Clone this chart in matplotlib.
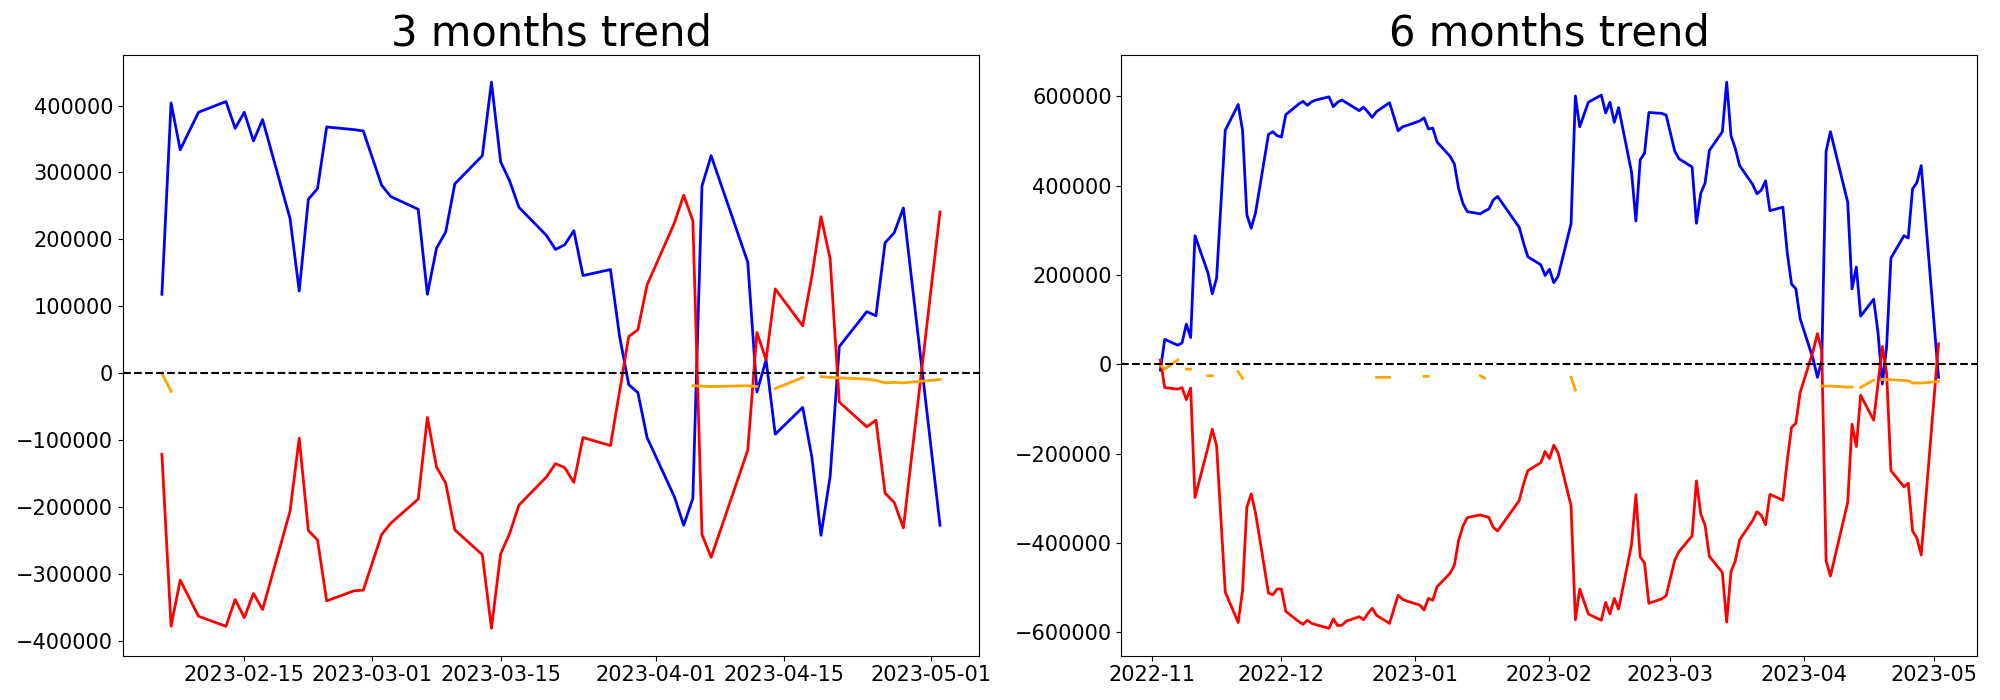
import numpy as np
import pandas as pd
import matplotlib
matplotlib.use('Agg')
import matplotlib.pyplot as plt

# ---- 3 months window ----
dates_3m = ['2023-02-06', '2023-02-07', '2023-02-08', '2023-02-10', '2023-02-13', '2023-02-14',
            '2023-02-15', '2023-02-16', '2023-02-17', '2023-02-20', '2023-02-21', '2023-02-22',
            '2023-02-23', '2023-02-24', '2023-02-27', '2023-02-28', '2023-03-02', '2023-03-03',
            '2023-03-06', '2023-03-07', '2023-03-08', '2023-03-09', '2023-03-10', '2023-03-13',
            '2023-03-14', '2023-03-15', '2023-03-16', '2023-03-17', '2023-03-20', '2023-03-21',
            '2023-03-22', '2023-03-23', '2023-03-24', '2023-03-27', '2023-03-28', '2023-03-29',
            '2023-03-30', '2023-03-31', '2023-04-03', '2023-04-04', '2023-04-05', '2023-04-06',
            '2023-04-07', '2023-04-11', '2023-04-12', '2023-04-13', '2023-04-14', '2023-04-17',
            '2023-04-18', '2023-04-19', '2023-04-20', '2023-04-21', '2023-04-24', '2023-04-25',
            '2023-04-26', '2023-04-27', '2023-04-28', '2023-05-02']

blue_3m = [118000, 404000, 334000, 390000, 406000, 366000,
           390000, 347000, 379000, 231000, 123000, 260000,
           276000, 368000, 364000, 362000, 281000, 264000,
           245000, 118000, 187000, 211000, 283000, 325000,
           435000, 316000, 287000, 248000, 206000, 185000,
           192000, 213000, 146000, 155000, 55000, -17000,
           -29000, -96000, -185000, -227000, -187000, 280000,
           325000, 166000, -28000, 20000, -91000, -51000,
           -125000, -242000, -154000, 40000, 92000, 86000,
           195000, 210000, 247000, -227000]

red_3m = [-121000, -378000, -309000, -363000, -378000, -338000,
          -365000, -329000, -353000, -206000, -97000, -235000,
          -249000, -340000, -325000, -324000, -241000, -224000,
          -188000, -66000, -140000, -164000, -234000, -271000,
          -381000, -270000, -239000, -197000, -155000, -135000,
          -141000, -163000, -96000, -108000, -27000, 55000,
          65000, 132000, 225000, 266000, 228000, -241000,
          -275000, -115000, 61000, 20000, 126000, 71000,
          145000, 234000, 171000, -43000, -80000, -70000,
          -179000, -193000, -231000, 241000]

# orange series only exists on some days
orange_dates_3m = ['2023-02-06', '2023-02-07', '2023-04-05', '2023-04-06', '2023-04-07',
                   '2023-04-11', '2023-04-12', '2023-04-14', '2023-04-17', '2023-04-19',
                   '2023-04-20', '2023-04-21', '2023-04-24', '2023-04-25', '2023-04-26',
                   '2023-04-27', '2023-04-28', '2023-05-02']
orange_3m = [0, -27000, -18600, -19200, -19800,
             -18600, -19800, -22900, -6200, -5000,
             -6200, -6800, -8700, -10500, -14300,
             -13600, -14300, -9300]

# ---- 6 months window ----
dates_6m = ['2022-11-03', '2022-11-04', '2022-11-07', '2022-11-08', '2022-11-09', '2022-11-10',
            '2022-11-11', '2022-11-14', '2022-11-15', '2022-11-16', '2022-11-18', '2022-11-21',
            '2022-11-22', '2022-11-23', '2022-11-24', '2022-11-25', '2022-11-28', '2022-11-29',
            '2022-11-30', '2022-12-01', '2022-12-02', '2022-12-05', '2022-12-06', '2022-12-07',
            '2022-12-08', '2022-12-09', '2022-12-12', '2022-12-13', '2022-12-14', '2022-12-15',
            '2022-12-16', '2022-12-19', '2022-12-20', '2022-12-21', '2022-12-22', '2022-12-23',
            '2022-12-26', '2022-12-27', '2022-12-28', '2022-12-29', '2022-12-30', '2023-01-02',
            '2023-01-03', '2023-01-04', '2023-01-05', '2023-01-06', '2023-01-09', '2023-01-10',
            '2023-01-11', '2023-01-12', '2023-01-13', '2023-01-16', '2023-01-17', '2023-01-18',
            '2023-01-19', '2023-01-20', '2023-01-25', '2023-01-26', '2023-01-27', '2023-01-30',
            '2023-01-31', '2023-02-01', '2023-02-02', '2023-02-03', '2023-02-06', '2023-02-07',
            '2023-02-08', '2023-02-10', '2023-02-13', '2023-02-14', '2023-02-15', '2023-02-16',
            '2023-02-17', '2023-02-20', '2023-02-21', '2023-02-22', '2023-02-23', '2023-02-24',
            '2023-02-27', '2023-02-28', '2023-03-02', '2023-03-03', '2023-03-06', '2023-03-07',
            '2023-03-08', '2023-03-09', '2023-03-10', '2023-03-13', '2023-03-14', '2023-03-15',
            '2023-03-16', '2023-03-17', '2023-03-20', '2023-03-21', '2023-03-22', '2023-03-23',
            '2023-03-24', '2023-03-27', '2023-03-28', '2023-03-29', '2023-03-30', '2023-03-31',
            '2023-04-03', '2023-04-04', '2023-04-05', '2023-04-06', '2023-04-07', '2023-04-11',
            '2023-04-12', '2023-04-13', '2023-04-14', '2023-04-17', '2023-04-18', '2023-04-19',
            '2023-04-20', '2023-04-21', '2023-04-24', '2023-04-25', '2023-04-26', '2023-04-27',
            '2023-04-28', '2023-05-02']

blue_6m = [-13000, 56000, 43000, 48000, 90000, 60000,
           288000, 205000, 158000, 193000, 524000, 582000,
           524000, 335000, 305000, 339000, 515000, 521000,
           512000, 509000, 559000, 583000, 589000, 580000,
           588000, 592000, 599000, 577000, 587000, 592000,
           586000, 568000, 576000, 565000, 553000, 566000,
           586000, 555000, 523000, 532000, 535000, 545000,
           552000, 527000, 529000, 498000, 466000, 449000,
           393000, 360000, 342000, 337000, 343000, 348000,
           368000, 376000, 307000, 272000, 241000, 223000,
           199000, 213000, 183000, 197000, 315000, 601000,
           532000, 587000, 603000, 563000, 587000, 542000,
           575000, 430000, 321000, 458000, 473000, 564000,
           562000, 558000, 477000, 460000, 442000, 316000,
           383000, 406000, 479000, 521000, 632000, 512000,
           483000, 445000, 403000, 382000, 390000, 411000,
           344000, 352000, 251000, 180000, 169000, 102000,
           12000, -29000, 8000, 477000, 521000, 363000,
           169000, 218000, 108000, 146000, 72000, -44000,
           40000, 238000, 288000, 283000, 393000, 407000,
           445000, -29000]

red_6m = [10000, -52000, -55500, -52000, -79000, -53000,
          -298000, -186000, -145000, -182000, -510000, -578000,
          -507000, -320000, -290000, -332000, -512000, -516000,
          -503000, -503000, -553000, -576000, -582000, -573000,
          -580000, -583000, -591000, -570000, -585000, -584000,
          -575000, -565000, -572000, -558000, -546000, -562000,
          -580000, -548000, -517000, -526000, -530000, -539000,
          -550000, -524000, -528000, -498000, -468000, -450000,
          -394000, -362000, -343000, -337000, -340000, -343000,
          -365000, -373000, -305000, -268000, -238000, -220000,
          -195000, -211000, -181000, -198000, -317000, -572000,
          -503000, -559000, -573000, -533000, -559000, -524000,
          -548000, -403000, -292000, -431000, -445000, -535000,
          -525000, -518000, -438000, -419000, -384000, -261000,
          -335000, -360000, -430000, -466000, -577000, -464000,
          -440000, -393000, -350000, -330000, -338000, -359000,
          -291000, -304000, -217000, -141000, -132000, -63000,
          30000, 69000, 30000, -440000, -474000, -309000,
          -134000, -184000, -69000, -125000, -44000, 40000,
          -20000, -238000, -274000, -266000, -373000, -389000,
          -427000, 46000]

orange_dates_6m = ['2022-11-03', '2022-11-04', '2022-11-07', '2022-11-09', '2022-11-10',
                   '2022-11-14', '2022-11-15', '2022-11-21', '2022-11-22', '2022-12-23',
                   '2022-12-26', '2023-01-03', '2023-01-04', '2023-01-16', '2023-01-17',
                   '2023-02-06', '2023-02-07', '2023-04-05', '2023-04-06', '2023-04-07',
                   '2023-04-11', '2023-04-12', '2023-04-14', '2023-04-17', '2023-04-19',
                   '2023-04-20', '2023-04-21', '2023-04-24', '2023-04-25', '2023-04-26',
                   '2023-04-27', '2023-04-28', '2023-05-02']
orange_6m = [-1500, -10500, 9700, -10500, -10500,
             -25400, -25400, -16400, -31400, -29100,
             -29100, -26900, -26900, -25400, -30600,
             -29100, -57500, -48600, -48600, -48600,
             -50800, -50800, -51500, -35100, -33600,
             -34000, -34400, -35900, -36600, -41800,
             -41800, -41800, -38100]


def draw_trend(ax, dates, blue, red, orange_dates, orange, title):
    x = pd.to_datetime(dates)
    # missing days of the orange series become gaps
    net = pd.Series(orange, index=pd.to_datetime(orange_dates)).reindex(x)
    ax.plot(x, blue, color='blue', linewidth=2)
    ax.plot(x, red, color='red', linewidth=2)
    ax.plot(x, net.values, color='orange', linewidth=2)
    ax.axhline(0, color='black', linestyle='--')
    ax.set_title(title, fontsize=30)
    ax.tick_params(labelsize=15)


fig, axes = plt.subplots(1, 2, figsize=(20, 7), dpi=100)
draw_trend(axes[0], dates_3m, blue_3m, red_3m, orange_dates_3m, orange_3m, '3 months trend')
draw_trend(axes[1], dates_6m, blue_6m, red_6m, orange_dates_6m, orange_6m, '6 months trend')

plt.subplots_adjust(left=0.0615, right=0.9887, bottom=0.0634, top=0.9217, wspace=0.1666)
plt.savefig('out.png')
